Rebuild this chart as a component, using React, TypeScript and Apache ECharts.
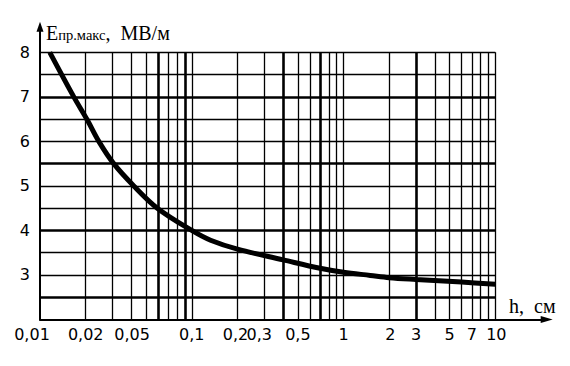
import React, { useEffect, useRef } from 'react';
import * as echarts from 'echarts';

// Curve: breakdown field strength vs gap h (log scale)
const hValues = [0.0116, 0.0167, 0.0205, 0.0244, 0.0306, 0.0415, 0.0593, 0.1, 0.133, 0.2, 0.4, 0.7, 1.0, 1.5, 2, 3, 6, 10];
const eValues = [8.0, 7.0, 6.48, 6.0, 5.5, 5.0, 4.5, 4.0, 3.78, 3.58, 3.34, 3.15, 3.06, 2.99, 2.94, 2.9, 2.84, 2.79];

// Tick labels
const xTickValues = [0.01, 0.02, 0.05, 0.1, 0.2, 0.3, 0.5, 1, 2, 3, 5, 7, 10];
const xTickLabels = ['0,01', '0,02', '0,05', '0,1', '0,2', '0,3', '0,5', '1', '2', '3', '5', '7', '10'];
const yTickValues = [3, 4, 5, 6, 7, 8];

// Grid lines
const hGridValues = [2.5, 3, 3.5, 4, 4.5, 5, 5.5, 6, 6.5, 7, 7.5, 8];
const hGridThick = [2.5, 4, 5.5, 7];
const vGridValues = [
  0.02, 0.03, 0.04, 0.05, 0.06, 0.07, 0.08, 0.09,
  0.1, 0.2, 0.3, 0.4, 0.5, 0.6, 0.7, 0.8, 0.9,
  1, 2, 3, 4, 5, 6, 7, 8, 9, 10,
];
const vGridThick = [0.06, 0.09, 0.4, 0.7, 3];

// label horizontal shifts (px, negative = left) as padding
const xLabelShift = [-8, 0, -14, 0, -2, -5, 0, 0, 1, 0, 0, 0, 1];

export default function App() {
  const ref = useRef<HTMLDivElement>(null);
  useEffect(() => {
    document.body.style.margin = '0';
    const chart = echarts.init(ref.current as HTMLDivElement, null, { renderer: 'svg' });
    const thin = 1.3;
    const thick = 2.6;
    const xMin = 0.01;
    const xEnd = 10;
    const yMin = 2;
    const yEnd = 8;
    const gridLines: any[] = [
      ...hGridValues.map((v) => [
        { coord: [xMin, v], lineStyle: { width: hGridThick.includes(v) ? thick : thin, color: '#000', type: 'solid' } },
        { coord: [xEnd, v] },
      ]),
      ...vGridValues.map((v) => [
        { coord: [v, yMin], lineStyle: { width: vGridThick.includes(v) ? thick : thin, color: '#000', type: 'solid' } },
        { coord: [v, yEnd] },
      ]),
    ];
    const font = 'DejaVu Sans';
    const rich: any = {};
    xTickLabels.forEach((_, i) => {
      const s = xLabelShift[i];
      rich['l' + i] = {
        fontSize: 16,
        fontFamily: font,
        color: '#000',
        padding: s < 0 ? [0, -2 * s, 0, 0] : [0, 0, 0, 2 * s],
      };
    });
    const option: any = {
      animation: false,
      backgroundColor: '#fff',
      grid: { left: 40, right: 23.3, top: 26.7, bottom: 46.5, containLabel: false },
      xAxis: {
        type: 'log',
        logBase: 10,
        min: 0.01,
        max: 21.8,
        axisLine: {
          show: true,
          onZero: false,
          symbol: ['none', 'triangle'],
          symbolSize: [7, 12],
          lineStyle: { color: '#000', width: 2 },
        },
        axisTick: { show: false },
        splitLine: { show: false },
        minorSplitLine: { show: false },
        axisLabel: {
          show: true,
          customValues: xTickValues,
          margin: 7,
          fontSize: 16,
          fontFamily: font,
          color: '#000',
          formatter: (v: number) => {
            let idx = 0;
            let best = Infinity;
            xTickValues.forEach((t, i) => {
              const d = Math.abs(Math.log10(t) - Math.log10(v));
              if (d < best) { best = d; idx = i; }
            });
            return '{l' + idx + '|' + xTickLabels[idx] + '}';
          },
          rich,
        },
      },
      yAxis: {
        type: 'value',
        min: 2,
        max: 8.575,
        axisLine: {
          show: true,
          onZero: false,
          symbol: ['none', 'triangle'],
          symbolSize: [7, 10],
          lineStyle: { color: '#000', width: 2 },
        },
        axisTick: { show: false },
        splitLine: { show: false },
        axisLabel: {
          show: true,
          customValues: yTickValues,
          margin: 10,
          fontSize: 16,
          fontFamily: font,
          color: '#000',
        },
      },
      series: [
        {
          type: 'line',
          name: 'grid',
          data: [],
          z: 1,
          silent: true,
          markLine: {
            silent: true,
            symbol: ['none', 'none'],
            label: { show: false },
            emphasis: { disabled: true },
            animation: false,
            lineStyle: { color: '#000', type: 'solid', width: thin },
            data: gridLines,
          },
        },
        {
          type: 'line',
          name: 'E',
          data: hValues.map((x, i) => [x, eValues[i]]),
          smooth: 0.35,
          symbol: 'none',
          z: 5,
          lineStyle: { color: '#000', width: 5 },
        },
      ],
      graphic: [
        {
          type: 'text',
          x: 46,
          y: 42.5,
          style: {
            text: '{a|E}{b|пр.макс}{c|,  МВ/м}',
            verticalAlign: 'bottom',
            align: 'left',
            rich: {
              a: { fontFamily: 'Liberation Serif', fontSize: 20, fill: '#000', color: '#000', verticalAlign: 'bottom' },
              b: { fontFamily: 'Liberation Serif', fontSize: 14.5, fill: '#000', color: '#000', verticalAlign: 'bottom' },
              c: { fontFamily: 'Liberation Serif', fontSize: 20, fill: '#000', color: '#000', verticalAlign: 'bottom' },
            },
          },
        },
        {
          type: 'text',
          x: 509,
          y: 316,
          style: {
            text: 'h,  см',
            fontFamily: 'Liberation Serif',
            fontSize: 20,
            fill: '#000',
            verticalAlign: 'bottom',
            align: 'left',
          },
        },
      ],
    };
    chart.setOption(option);
    return () => chart.dispose();
  }, []);
  return <div ref={ref} style={{ position: 'absolute', left: 0, top: 0, width: 570, height: 366 }} />;
}
